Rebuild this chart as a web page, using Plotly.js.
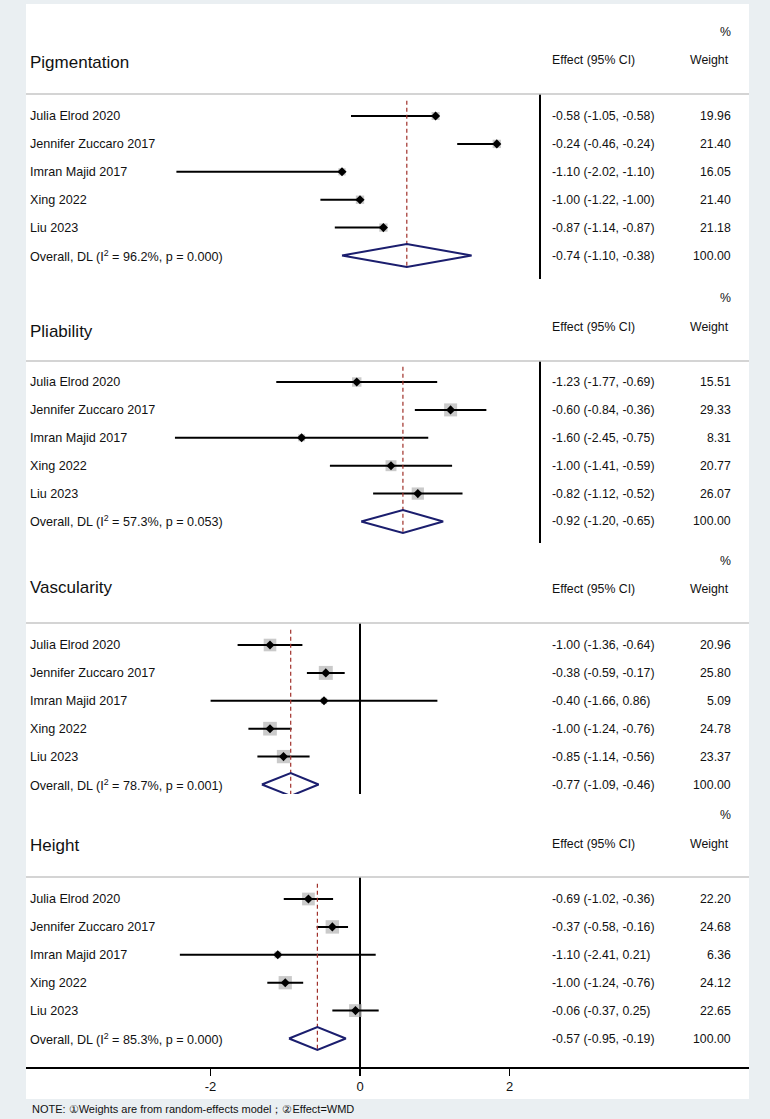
<!DOCTYPE html>
<html>
<head>
<meta charset="utf-8">
<script src="https://cdn.plot.ly/plotly-3.0.1.min.js"></script>
<style>html,body{margin:0;padding:0;background:#eaeff2;}#chart{width:770px;height:1119px;}</style>
</head>
<body>
<div id="chart"></div>
<script>
// ---------------- DATA ----------------
const studies = ["Julia Elrod 2020", "Jennifer Zuccaro 2017", "Imran Majid 2017", "Xing 2022", "Liu 2023"];
const panelNames = ["Pigmentation", "Pliability", "Vascularity", "Height"];

const pigEst = [-0.58, -0.24, -1.10, -1.00, -0.87];
const pigLo  = [-1.05, -0.46, -2.02, -1.22, -1.14];
const pigHi  = [-0.58, -0.24, -1.10, -1.00, -0.87];
const pigW   = [19.96, 21.40, 16.05, 21.40, 21.18];
const pigOverall = [-0.74, -1.10, -0.38];
const pigI2 = 96.2, pigP = 0.000;

const pliEst = [-1.23, -0.60, -1.60, -1.00, -0.82];
const pliLo  = [-1.77, -0.84, -2.45, -1.41, -1.12];
const pliHi  = [-0.69, -0.36, -0.75, -0.59, -0.52];
const pliW   = [15.51, 29.33, 8.31, 20.77, 26.07];
const pliOverall = [-0.92, -1.20, -0.65];
const pliI2 = 57.3, pliP = 0.053;

const vasEst = [-1.00, -0.38, -0.40, -1.00, -0.85];
const vasLo  = [-1.36, -0.59, -1.66, -1.24, -1.14];
const vasHi  = [-0.64, -0.17, 0.86, -0.76, -0.56];
const vasW   = [20.96, 25.80, 5.09, 24.78, 23.37];
const vasOverall = [-0.77, -1.09, -0.46];
const vasI2 = 78.7, vasP = 0.001;

const heiEst = [-0.69, -0.37, -1.10, -1.00, -0.06];
const heiLo  = [-1.02, -0.58, -2.41, -1.24, -0.37];
const heiHi  = [-0.36, -0.16, 0.21, -0.76, 0.25];
const heiW   = [22.20, 24.68, 6.36, 24.12, 22.65];
const heiOverall = [-0.57, -0.95, -0.19];
const heiI2 = 85.3, heiP = 0.000;

const axisTicks = [-2, 0, 2];
const noteText = "NOTE: ①Weights are from random-effects model；②Effect=WMD";

// ---------------- LAYOUT CONSTANTS ----------------
const W = 770, H = 1119;
const FONT = "Liberation Sans, Arial, Helvetica, sans-serif";
const panels = [
  {est: pigEst, lo: pigLo, hi: pigHi, w: pigW, ov: pigOverall, i2: pigI2, p: pigP,
   sep: 94, row0: 116, bottom: 279, zeroPx: 540, scale: 180, box: 1.8, titleY: 62, headY: 60, pctY: 32},
  {est: pliEst, lo: pliLo, hi: pliHi, w: pliW, ov: pliOverall, i2: pliI2, p: pliP,
   sep: 361, row0: 382, bottom: 543, zeroPx: 540, scale: 149, box: 2.4, titleY: 331, headY: 327, pctY: 298},
  {est: vasEst, lo: vasLo, hi: vasHi, w: vasW, ov: vasOverall, i2: vasI2, p: vasP,
   sep: 623, row0: 645, bottom: 794, zeroPx: 360, scale: 90, box: 2.75, titleY: 587, headY: 589, pctY: 561},
  {est: heiEst, lo: heiLo, hi: heiHi, w: heiW, ov: heiOverall, i2: heiI2, p: heiP,
   sep: 877, row0: 899, bottom: 1067, zeroPx: 360, scale: 74.75, box: 2.7, titleY: 846, headY: 844, pctY: 815}
];
const rowGap = 27.9;
const plotL = 26, plotR = 749, whiteTop = 4, whiteBottom = 1099;
const px = x => x / W;
const py = y => 1 - y / H;

const traces = [];
const annotations = [];
const shapes = [];
const layout = {
  width: W, height: H,
  margin: {l: 0, r: 0, t: 0, b: 0, pad: 0},
  paper_bgcolor: "#eaeff2",
  plot_bgcolor: "rgba(0,0,0,0)",
  showlegend: false,
  hovermode: false,
  font: {family: FONT, color: "#111", size: 13}
};

shapes.push({type: "rect", xref: "paper", yref: "paper", layer: "below",
  x0: px(plotL), x1: px(plotR), y0: py(whiteBottom), y1: py(whiteTop),
  fillcolor: "#ffffff", line: {width: 0}});

panels.forEach((P, i) => {
  const s = i === 0 ? "" : String(i + 1);
  const xa = "x" + s, ya = "y" + s;
  const rows = studies.map((_, k) => k);
  const ovRow = studies.length;
  const isLast = i === panels.length - 1;

  const xax = {
    domain: [px(plotL), px(plotR)],
    range: [(plotL - P.zeroPx) / P.scale, (plotR - P.zeroPx) / P.scale],
    anchor: ya,
    showgrid: false,
    zeroline: true, zerolinecolor: "#000", zerolinewidth: 1.5,
    showline: isLast, linecolor: "#000", linewidth: 1.5,
    showticklabels: isLast,
    ticks: isLast ? "outside" : "",
    fixedrange: true
  };
  if (isLast) {
    Object.assign(xax, {ticklen: 7, tickwidth: 1.3, tickcolor: "#000", tickmode: "array",
      tickvals: axisTicks, ticktext: axisTicks.map(String),
      tickfont: {family: FONT, size: 13, color: "#111"}});
  }
  layout["xaxis" + s] = xax;
  layout["yaxis" + s] = {
    domain: [py(P.bottom), py(P.sep)],
    range: [(P.bottom - P.row0) / rowGap, (P.sep - P.row0) / rowGap],
    anchor: xa,
    showgrid: false, zeroline: false, showline: false, showticklabels: false, ticks: "",
    fixedrange: true
  };

  // gray weight squares
  traces.push({type: "scatter", mode: "markers", x: P.est, y: rows, xaxis: xa, yaxis: ya,
    marker: {symbol: "square", color: "#b4b4b4", size: P.w.map(v => P.box * Math.sqrt(v)), line: {width: 0}}});
  // CI lines
  const cx = [], cy = [];
  P.lo.forEach((lo, k) => { cx.push(lo, P.hi[k], null); cy.push(k, k, null); });
  traces.push({type: "scatter", mode: "lines", x: cx, y: cy, xaxis: xa, yaxis: ya,
    line: {color: "#000", width: 2}});
  // point estimates
  traces.push({type: "scatter", mode: "markers", x: P.est, y: rows, xaxis: xa, yaxis: ya,
    marker: {symbol: "diamond", color: "#000", size: 7}});
  // overall dashed line
  traces.push({type: "scatter", mode: "lines", x: [P.ov[0], P.ov[0]], y: [-0.55, ovRow + 0.42], xaxis: xa, yaxis: ya,
    line: {color: "#a0302a", width: 1.2, dash: "4px,3px"}});
  // overall diamond
  const dh = 0.41;
  traces.push({type: "scatter", mode: "lines",
    x: [P.ov[1], P.ov[0], P.ov[2], P.ov[0], P.ov[1]],
    y: [ovRow, ovRow - dh, ovRow, ovRow + dh, ovRow], xaxis: xa, yaxis: ya,
    line: {color: "#1b1e6e", width: 2}});

  // separator line
  shapes.push({type: "line", xref: "paper", yref: "paper", x0: px(plotL), x1: px(plotR),
    y0: py(P.sep), y1: py(P.sep), line: {color: "#c6c6c6", width: 1.6}});

  // header texts
  annotations.push({xref: "paper", yref: "paper", x: px(28), y: py(P.titleY), xanchor: "left", yanchor: "middle",
    text: panelNames[i], showarrow: false, font: {family: FONT, size: 17, color: "#111"}});
  annotations.push({xref: "paper", yref: "paper", x: px(550), y: py(P.headY), xanchor: "left", yanchor: "middle",
    text: "Effect (95% CI)", showarrow: false, font: {family: FONT, size: 12.3, color: "#111"}});
  annotations.push({xref: "paper", yref: "paper", x: px(731), y: py(P.headY), xanchor: "right", yanchor: "middle",
    text: "Weight", showarrow: false, font: {family: FONT, size: 12.3, color: "#111"}});
  annotations.push({xref: "paper", yref: "paper", x: px(733), y: py(P.pctY), xanchor: "right", yanchor: "middle",
    text: "%", showarrow: false, font: {family: FONT, size: 12.3, color: "#111"}});

  // row texts
  const fmt = v => v.toFixed(2);
  studies.forEach((name, k) => {
    annotations.push({xref: "paper", yref: ya, x: px(28), y: k, xanchor: "left", yanchor: "middle",
      text: name, showarrow: false, font: {family: FONT, size: 12.6, color: "#111"}});
    annotations.push({xref: "paper", yref: ya, x: px(550), y: k, xanchor: "left", yanchor: "middle",
      text: fmt(P.est[k]) + " (" + fmt(P.lo[k]) + ", " + fmt(P.hi[k]) + ")", showarrow: false,
      font: {family: FONT, size: 12.3, color: "#111"}});
    annotations.push({xref: "paper", yref: ya, x: px(733), y: k, xanchor: "right", yanchor: "middle",
      text: fmt(P.w[k]), showarrow: false, font: {family: FONT, size: 12.3, color: "#111"}});
  });
  const totalW = 100;
  annotations.push({xref: "paper", yref: ya, x: px(28), y: ovRow, xanchor: "left", yanchor: "middle",
    text: "Overall, DL (I<sup>2</sup> = " + P.i2.toFixed(1) + "%, p = " + P.p.toFixed(3) + ")", showarrow: false,
    font: {family: FONT, size: 12.6, color: "#111"}});
  annotations.push({xref: "paper", yref: ya, x: px(550), y: ovRow, xanchor: "left", yanchor: "middle",
    text: fmt(P.ov[0]) + " (" + fmt(P.ov[1]) + ", " + fmt(P.ov[2]) + ")", showarrow: false,
    font: {family: FONT, size: 12.3, color: "#111"}});
  annotations.push({xref: "paper", yref: ya, x: px(733), y: ovRow, xanchor: "right", yanchor: "middle",
    text: totalW.toFixed(2), showarrow: false, font: {family: FONT, size: 12.3, color: "#111"}});
});

annotations.push({xref: "paper", yref: "paper", x: px(30), y: py(1109), xanchor: "left", yanchor: "middle",
  text: noteText, showarrow: false, font: {family: FONT, size: 11, color: "#111"}});

layout.shapes = shapes;
layout.annotations = annotations;

Plotly.newPlot("chart", traces, layout, {staticPlot: true, displayModeBar: false});
</script>
</body>
</html>
